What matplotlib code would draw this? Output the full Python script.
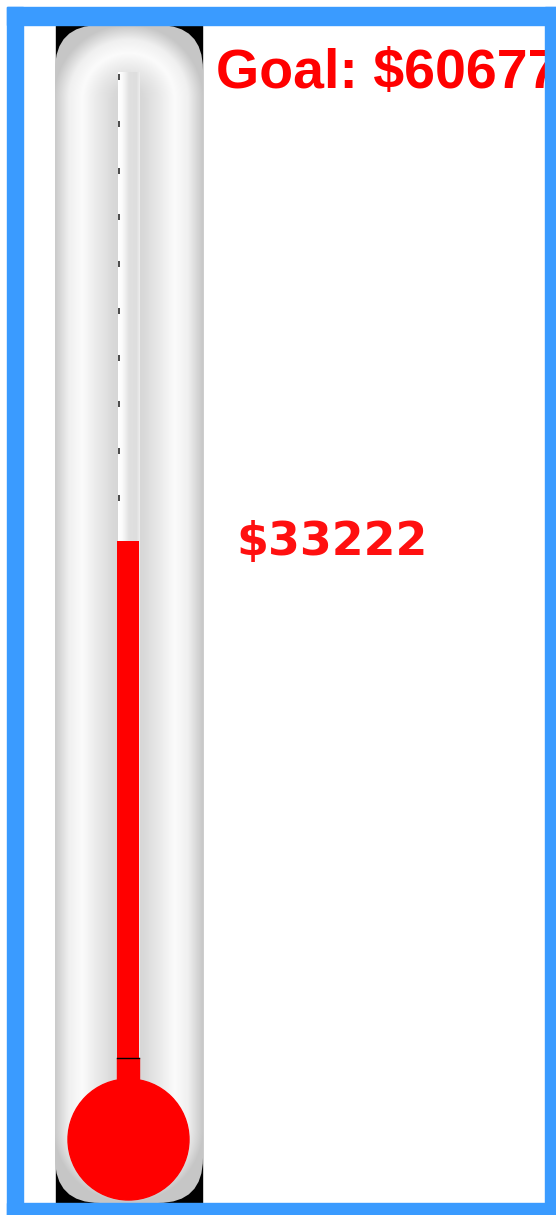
import matplotlib
matplotlib.use('Agg')
import matplotlib.pyplot as plt
import numpy as np
from matplotlib.patches import Rectangle, Circle, FancyBboxPatch

# data
goal = 60677
raised = 33222
scale_top = 63340          # value at the top of the glass stem
tick_step = 3000
ticks = list(range(tick_step, 63001, tick_step))

W, H = 556, 1215
fig = plt.figure(figsize=(W / 100, H / 100), dpi=100)
ax = fig.add_axes([0, 0, 1, 1])
ax.set_xlim(0, W)
ax.set_ylim(H, 0)
ax.axis('off')

# tube: black box behind, gradient clipped to rounded shape
tx0, tx1, ty0, ty1 = 55, 203, 25, 1203
ax.add_patch(Rectangle((tx0 + 1, ty0), tx1 - tx0 - 2, ty1 - ty0, color='black', zorder=1))

cx = (tx0 + tx1) / 2
R = (tx1 - tx0) / 2
xs = np.arange(tx0, tx1 + 1) + 0.5
ys = np.arange(ty0, ty1 + 1) + 0.5
X, Y = np.meshgrid(xs, ys)
yc = np.clip(Y, ty0 + R, ty1 - R)
d = np.sqrt((X - cx) ** 2 + (Y - yc) ** 2) / R
stops_d = [0.0, 0.2, 0.4, 0.62, 0.8, 1.0]
stops_v = [0.82, 0.85, 0.91, 0.985, 0.94, 0.78]
g = np.clip(np.interp(d, stops_d, stops_v), 0, 1)
img = ax.imshow(np.dstack([g, g, g]), extent=(tx0 - 1, tx1 + 1, ty1, ty0),
                interpolation='bilinear', zorder=2, aspect='auto')
clip = FancyBboxPatch((tx0, ty0), tx1 - tx0, ty1 - ty0,
                      boxstyle='round,pad=0,rounding_size=45',
                      transform=ax.transData,
                      facecolor='none', edgecolor='none')
ax.add_patch(clip)
img.set_clip_path(clip)

# glass stem
sx0, sx1, sy0, sy1 = 118, 140, 72, 1100
sg = np.interp(np.linspace(0, 1, 60), [0, 0.2, 0.5, 0.85, 1.0],
               [1.0, 0.98, 0.88, 0.87, 0.93])
ax.imshow(np.dstack([sg, sg, sg]), extent=(sx0, sx1, sy1, sy0),
          interpolation='bilinear', zorder=3, aspect='auto')

# value axes over the stem
y_zero = 1058.3
y_top = 72
axv = fig.add_axes([117 / W, 1 - y_zero / H, 22 / W, (y_zero - y_top) / H])
axv.set_xlim(-0.5, 0.5)
axv.set_ylim(0, scale_top)
axv.axis('off')
axv.patch.set_alpha(0)
axv.plot([-0.42] * len(ticks), ticks, linestyle='none', marker='|',
         markersize=5, markeredgewidth=1.4, color='#4a4a4a', zorder=3)
axv.bar(0, raised, width=1, color='#ff0000', zorder=4)
axv.axhline(0, color='black', lw=1, zorder=6, clip_on=False)

# red below zero and bulb
ax.add_patch(Rectangle((117, 1058), 22, 50, color='#ff0000', zorder=4))
ax.add_patch(Circle((128.5, 1139.5), 60.5, color='#ff0000', zorder=5))

# labels
ax.text(216, 88, 'Goal: $%d' % goal, color='#ff0000', fontsize=40,
        fontweight='bold', family='Liberation Sans', ha='left',
        va='baseline', zorder=6)
ax.text(236, 555, '$%d' % raised, color='#ff1010', fontsize=33,
        fontweight='bold', family='DejaVu Sans', ha='left',
        va='baseline', zorder=6)

# blue frame
blue = '#3a9bff'
ax.add_patch(Rectangle((7, 7), W - 7, 18, color=blue, zorder=10))
ax.add_patch(Rectangle((7, 7), 16, H - 7, color=blue, zorder=10))
ax.add_patch(Rectangle((545, 7), W - 545, H - 7, color=blue, zorder=10))
ax.add_patch(Rectangle((7, 1203), W - 7, H - 1203, color=blue, zorder=10))

fig.savefig('out.png', dpi=100)
